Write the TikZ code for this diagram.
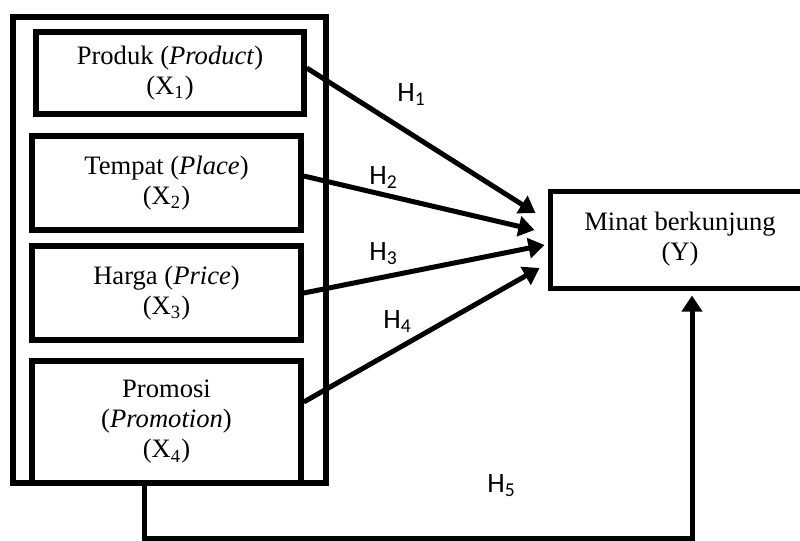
\documentclass[tikz,border=0pt]{standalone}
\usepackage{fontspec}
\setmainfont{Liberation Serif}
\newfontfamily\hfont{Carlito}
\usetikzlibrary{arrows.meta,calc}

\begin{document}
\begin{tikzpicture}[x=0.5pt,y=-0.5pt,
    box/.style={draw, line width=2.75pt, inner sep=0pt, align=center,
      font=\fontsize{13.3}{15}\selectfont},
    arr/.style={line width=2.5pt, -{Triangle[length=8pt,width=10pt]}},
    hyp/.style={anchor=base west, inner sep=0pt, font=\hfont\fontsize{14}{16}\selectfont}]
  \useasboundingbox (0,0) rectangle (800,541);
  % variabel bebas
  \node[box, minimum width=156.5pt, minimum height=233pt] (frame) at (169.5,250) {};
  \node[box, minimum width=134pt, minimum height=41pt] (prod) at (170,73)
    {Produk (\textit{Product})\\(X\textsubscript{1})};
  \node[box, minimum width=134.5pt, minimum height=47pt] (temp) at (166.5,183)
    {Tempat (\textit{Place})\\(X\textsubscript{2})};
  \node[box, minimum width=134.5pt, minimum height=47pt] (harg) at (166.5,293)
    {Harga (\textit{Price})\\(X\textsubscript{3})};
  \node[box, minimum width=134.5pt, minimum height=61pt] (prom) at (166.5,422)
    {Promosi\\(\textit{Promotion})\\(X\textsubscript{4})};
  % variabel terikat
  \node[box, line width=2.5pt, minimum width=130pt, minimum height=48.5pt] (minat) at (680,239.5)
    {Minat berkunjung\\(Y)};
  % ujung panah
  \coordinate (t1) at ($(minat.west)+(-12,-26.5)$);
  \coordinate (t2) at ($(minat.west)+(-13,-9.5)$);
  \coordinate (t3) at ($(minat.west)+(-3,5.5)$);
  \coordinate (t4) at ($(minat.west)+(-8,28.5)$);
  \coordinate (s5) at ($(frame.south west)+(134,0)$);
  \coordinate (t5) at ($(minat.south)+(12,0)$);
  \draw[arr] ($(prod.east)+(0,-5)$) -- (t1);
  \draw[arr] ($(temp.east)+(0,-7)$) -- (t2);
  \draw[arr] (harg.east) -- (t3);
  \draw[arr] ($(prom.east)+(0,-20)$) -- (t4);
  \draw[arr, shorten >=2.5pt] (s5) -- ++(0,53) -| (t5);
  % hipotesis
  \node[hyp] (h1) at (397,101) {H\textsubscript{1}};
  \node[hyp] (h2) at (369,184) {H\textsubscript{2}};
  \node[hyp] (h3) at (369,260) {H\textsubscript{3}};
  \node[hyp] (h4) at (383,328) {H\textsubscript{4}};
  \node[hyp] (h5) at (487,492) {H\textsubscript{5}};
\end{tikzpicture}
\end{document}
